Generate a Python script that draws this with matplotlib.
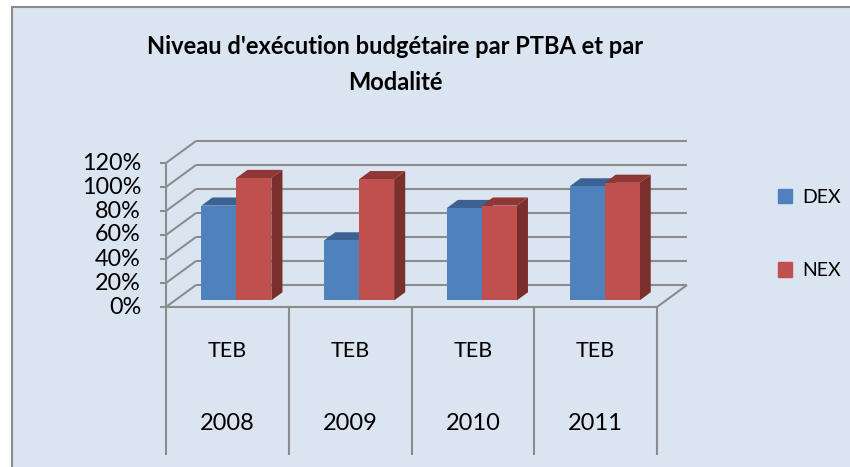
import matplotlib
matplotlib.use("Agg")
import matplotlib.pyplot as plt
from matplotlib.patches import Polygon, Rectangle, Patch
import numpy as np

years = ["2008", "2009", "2010", "2011"]
modalite = ["TEB", "TEB", "TEB", "TEB"]
series = ["DEX", "NEX"]
dex = [79, 50, 77, 95]
nex = [102, 101, 79, 98]
yticks = [0, 20, 40, 60, 80, 100, 120]

bg = "#DBE5F1"
grid = "#8C8C8C"
front = ["#4F81BD", "#C0504D"]
top = ["#3B6292", "#8F3735"]
side = ["#35577F", "#7A2F2D"]

plt.rcParams["font.family"] = ["Lato", "DejaVu Sans"]

W, H = 850, 467
fig = plt.figure(figsize=(W / 100, H / 100), dpi=100, facecolor="white")
fig.patches.append(Rectangle((12 / W, -0.02), 1.0, (H - 7) / H + 0.02,
                             transform=fig.transFigure, fc=bg, ec=grid, lw=1.5, zorder=-5))

# one axes over the whole figure: x in category units, y in percent
px_cat, px_pct = 122.75, 1.2
x0_px, y0_px = 166, 307
ax = fig.add_axes([0, 0, 1, 1])
ax.set_xlim(-x0_px / px_cat, (W - x0_px) / px_cat)
ax.set_ylim((y0_px - H) / px_pct, y0_px / px_pct)
ax.axis("off")

# oblique depth of the walls
dxw, dyw = 30 / px_cat, 22 / px_pct
n = len(years)
lk = dict(color=grid, lw=1.5, solid_capstyle="butt", zorder=1)

for p in yticks:
    ax.plot([dxw, n + dxw], [p + dyw, p + dyw], **lk)
    ax.plot([0, dxw], [p, p + dyw], **lk)
    ax.plot([-6 / px_cat, 0], [p, p], **lk)
    ax.text(-25 / px_cat, p, f"{p}%", ha="right", va="center", fontsize=16.8)
ax.plot([0, 0], [0, yticks[-1]], **lk)
ax.plot([n, n + dxw], [0, dyw], **lk)

# category axis table
ax.plot([0, n], [0, 0], **lk)
for i in range(n + 1):
    ax.plot([i, i], [0, -123], **lk)
for i in range(n):
    ax.text(i + 0.5, -36.7, modalite[i], ha="center", va="center", fontsize=15.5)
    ax.text(i + 0.5, -96.7, years[i], ha="center", va="center", fontsize=17)

# 3d-looking bars
f0, f1 = 0.30, 0.67
bw = 35 / px_cat
x = np.arange(n) + 0.5
for k, vals in enumerate([dex, nex]):
    left = x - bw + k * bw + f0 * dxw
    base = f0 * dyw
    ddx, ddy = (f1 - f0) * dxw, (f1 - f0) * dyw
    for xl, v in zip(left, vals):
        xr, yt = xl + bw, base + v
        ax.add_patch(Polygon([(xr, base), (xr + ddx, base + ddy), (xr + ddx, yt + ddy), (xr, yt)],
                             closed=True, fc=side[k], ec="none", zorder=3 + k))
        ax.add_patch(Polygon([(xl, yt), (xl + ddx, yt + ddy), (xr + ddx, yt + ddy), (xr, yt)],
                             closed=True, fc=top[k], ec="none", zorder=3 + k))
    ax.bar(left, vals, bw, bottom=base, align="edge", color=front[k], zorder=3.5 + k)

fig.text(395 / W, 1 - 47 / H, "Niveau d'exécution budgétaire par PTBA et par",
         ha="center", va="center", fontsize=17, fontweight="bold")
fig.text(395 / W, 1 - 83 / H, "Modalité", ha="center", va="center",
         fontsize=17, fontweight="bold")

handles = [Patch(color=c) for c in front]
ax.legend(handles, series, loc="center left", bbox_to_anchor=(774 / W, 1 - 234 / H),
          bbox_transform=fig.transFigure, frameon=False, fontsize=14,
          handlelength=0.75, handleheight=0.75, handletextpad=0.5, labelspacing=2.9,
          borderaxespad=0, borderpad=0.2)

fig.savefig("out.png", dpi=100, facecolor="white")
